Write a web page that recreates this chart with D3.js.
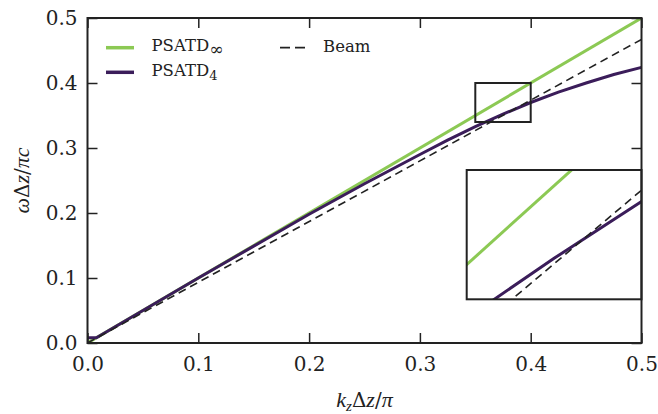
<!DOCTYPE html>
<html><head><meta charset="utf-8">
<script src="https://cdn.jsdelivr.net/npm/d3@7"></script>
<style>
body{margin:0;background:#fff}
svg{display:block}
text{font-family:"DejaVu Serif",serif;fill:#222}
</style>
</head><body>
<svg id="c" width="658" height="414"></svg>
<script>
// ---- data ----
const kInf = [0, 0.5];
const wInf = [0, 0.5];
const k4 = [0, 0.008, 0.02, 0.05, 0.1, 0.15, 0.2, 0.25, 0.3, 0.325, 0.35, 0.375, 0.4, 0.425, 0.45, 0.475, 0.5];
const w4 = [0.008, 0.008, 0.02, 0.05, 0.1, 0.149, 0.198, 0.245, 0.29, 0.312, 0.333, 0.352, 0.370, 0.386, 0.400, 0.413, 0.424];
const kBeam = [0, 0.5];
const wBeam = [0, 0.467];
const xTicks = [0, 0.1, 0.2, 0.3, 0.4, 0.5];
const yTicks = [0, 0.1, 0.2, 0.3, 0.4, 0.5];
const zoomX = [0.35, 0.40];
const zoomY = [0.34, 0.40];
const insetY = [0.339, 0.380];

const GREEN = "#8cc954", PURPLE = "#3b1d5a", INK = "#222";
const MATH = "'Liberation Serif', serif";
const svg = d3.select("#c");
const L = 87.5, R = 641.5, T = 18, B = 343;
const x = d3.scaleLinear().domain([0, 0.5]).range([L, R]);
const y = d3.scaleLinear().domain([0, 0.5]).range([B, T]);

const series = [
  {k: kInf, w: wInf, color: GREEN, width: 3, dash: null},
  {k: k4, w: w4, color: PURPLE, width: 3, dash: null},
  {k: kBeam, w: wBeam, color: INK, width: 1.6, dash: "8,5"}
];

const defs = svg.append("defs");
defs.append("clipPath").attr("id", "mainclip").append("rect")
  .attr("x", L).attr("y", T).attr("width", R - L).attr("height", B - T);

const gMain = svg.append("g").attr("clip-path", "url(#mainclip)");
series.forEach(s => {
  const line = d3.line().x((d, j) => x(s.k[j])).y((d, j) => y(s.w[j]));
  gMain.append("path").attr("d", line(s.k)).attr("fill", "none")
    .attr("stroke", s.color).attr("stroke-width", s.width)
    .attr("stroke-dasharray", s.dash);
});

// zoom indicator rect
svg.append("rect")
  .attr("x", x(zoomX[0])).attr("y", y(zoomY[1]))
  .attr("width", x(zoomX[1]) - x(zoomX[0])).attr("height", y(zoomY[0]) - y(zoomY[1]))
  .attr("fill", "none").attr("stroke", INK).attr("stroke-width", 2);

// axes ticks (inward, all four sides)
const tl = 10;
const axB = d3.axisBottom(x).tickValues(xTicks).tickSize(-tl).tickFormat(d3.format(".1f")).tickPadding(14);
const axT = d3.axisTop(x).tickValues(xTicks).tickSize(-tl).tickFormat("");
const axL = d3.axisLeft(y).tickValues(yTicks).tickSize(-tl).tickFormat(d3.format(".1f")).tickPadding(10);
const axR = d3.axisRight(y).tickValues(yTicks).tickSize(-tl).tickFormat("");
function styleAxis(g) {
  g.select(".domain").remove();
  g.selectAll(".tick line").attr("stroke", INK).attr("stroke-width", 1.5);
  g.selectAll(".tick text").attr("font-family", "DejaVu Serif").attr("font-size", 20).attr("fill", INK);
}
svg.append("g").attr("transform", `translate(0,${B})`).call(axB).call(styleAxis);
svg.append("g").attr("transform", `translate(0,${T})`).call(axT).call(styleAxis);
svg.append("g").attr("transform", `translate(${L},0)`).call(axL).call(styleAxis);
svg.append("g").attr("transform", `translate(${R},0)`).call(axR).call(styleAxis);

// legend
const leg = svg.append("g");
function legLine(x0, x1, yy, color, w, dash) {
  leg.append("line").attr("x1", x0).attr("x2", x1).attr("y1", yy).attr("y2", yy)
    .attr("stroke", color).attr("stroke-width", w).attr("stroke-dasharray", dash);
}
legLine(106, 134, 47.7, GREEN, 3.5, null);
legLine(106, 134, 72.3, PURPLE, 3.5, null);
legLine(280, 305, 47.7, INK, 1.8, "10,5");
const t1 = leg.append("text").attr("x", 151.5).attr("y", 51).attr("font-size", 16.5);
t1.append("tspan").text("PSATD");
t1.append("tspan").attr("dy", 4).attr("font-size", 17).text("∞");
const t2 = leg.append("text").attr("x", 151.5).attr("y", 76).attr("font-size", 16.5);
t2.append("tspan").text("PSATD");
t2.append("tspan").attr("dy", 4).attr("font-size", 13).text("4");
leg.append("text").attr("x", 323).attr("y", 52).attr("font-size", 16.5).text("Beam");

// inset
const IL = 466.7, IR = R, IT = 170, IB = 299.3;
const xi = d3.scaleLinear().domain(zoomX).range([IL, IR]);
const yi = d3.scaleLinear().domain(insetY).range([IB, IT]);
defs.append("clipPath").attr("id", "insclip").append("rect")
  .attr("x", IL).attr("y", IT).attr("width", IR - IL).attr("height", IB - IT);
svg.append("rect").attr("x", IL).attr("y", IT).attr("width", IR - IL).attr("height", IB - IT).attr("fill", "#fff");
const gIn = svg.append("g").attr("clip-path", "url(#insclip)");
series.forEach(s => {
  const line = d3.line().x((d, j) => xi(s.k[j])).y((d, j) => yi(s.w[j]));
  gIn.append("path").attr("d", line(s.k)).attr("fill", "none")
    .attr("stroke", s.color).attr("stroke-width", s.width)
    .attr("stroke-dasharray", s.dash);
});
svg.append("rect").attr("x", IL).attr("y", IT).attr("width", IR - IL).attr("height", IB - IT)
  .attr("fill", "none").attr("stroke", INK).attr("stroke-width", 2);

// main spines
svg.append("rect").attr("x", L).attr("y", T).attr("width", R - L).attr("height", B - T)
  .attr("fill", "none").attr("stroke", INK).attr("stroke-width", 2);

// axis labels
const xl = svg.append("text").attr("x", (L + R) / 2).attr("y", 407).attr("text-anchor", "middle").attr("font-size", 22);
xl.append("tspan").attr("font-family", MATH).attr("font-style", "italic").text("k");
xl.append("tspan").attr("font-family", MATH).attr("font-style", "italic").attr("font-size", 15).attr("dy", 4).text("z");
xl.append("tspan").attr("dy", -4).attr("font-size", 20).text("Δ");
xl.append("tspan").attr("font-family", MATH).attr("font-style", "italic").text("z");
xl.append("tspan").attr("font-size", 20).text("/");
xl.append("tspan").attr("font-family", MATH).attr("font-style", "italic").text("π");

const yl = svg.append("text").attr("transform", `translate(29,${(T + B) / 2}) rotate(-90)`)
  .attr("text-anchor", "middle").attr("font-size", 22);
yl.append("tspan").attr("font-family", MATH).attr("font-style", "italic").text("ω");
yl.append("tspan").attr("font-size", 20).text("Δ");
yl.append("tspan").attr("font-family", MATH).attr("font-style", "italic").text("z");
yl.append("tspan").attr("font-size", 20).text("/");
yl.append("tspan").attr("font-family", MATH).attr("font-style", "italic").text("πc");
</script>
</body></html>
